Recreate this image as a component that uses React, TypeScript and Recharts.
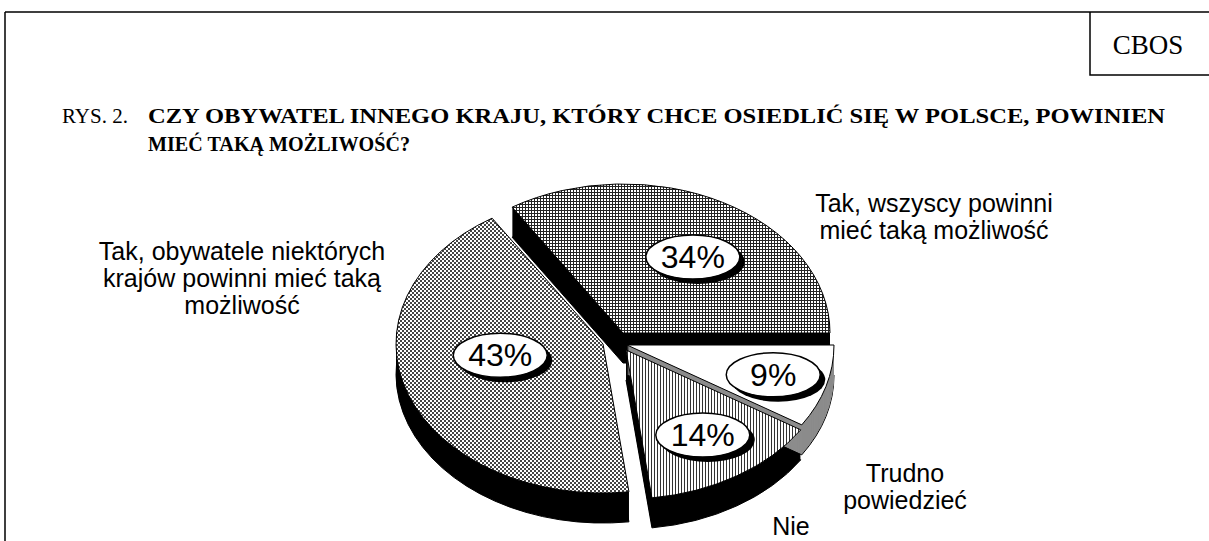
import React from "react";
import { PieChart, Pie } from "recharts";

// answers (order = drawing order, counter-clockwise from 3 o'clock)
const categories = [
  "Tak, wszyscy powinni mieć taką możliwość",
  "Tak, obywatele niektórych krajów powinni mieć taką możliwość",
  "Nie",
  "Trudno powiedzieć",
];
const shares = [34, 43, 14, 9];
const labelLines = [
  ["Tak, wszyscy powinni", "mieć taką możliwość"],
  ["Tak, obywatele niektórych", "krajów powinni mieć taką", "możliwość"],
  ["Nie"],
  ["Trudno", "powiedzieć"],
];

const data = categories.map((c, i) => ({ name: c, value: shares[i] }));

// look of each slice
const tops = ["url(#grid)", "url(#checker)", "url(#vlines)", "#ffffff"];
const sides = ["#000000", "#000000", "#000000", "#8c8c8c"];
const explode = [
  [-2, -10],
  [-22, 1],
  [1, 7],
  [2, 2],
];
const pctNudge = [
  [8, 5],
  [18, -20],
  [8, 7],
  [23, 4],
];
const catOffset = [
  [309, -131],
  [-383, -83],
  [166, 192],
  [280, 139],
];

const CX = 620;
const CY = 338;
const R = 207;
const TILT = 0.72;
const DEPTH = 30;
const SANS = "Liberation Sans, Arial, sans-serif";
const SERIF = "Liberation Serif, Times New Roman, serif";

const rad = Math.PI / 180;

function slicePath(x0: number, y0: number, rx: number, a0: number, a1: number) {
  const ry = rx * TILT;
  const p0 = [x0 + rx * Math.cos(a0 * rad), y0 - ry * Math.sin(a0 * rad)];
  const p1 = [x0 + rx * Math.cos(a1 * rad), y0 - ry * Math.sin(a1 * rad)];
  const large = Math.abs(a1 - a0) > 180 ? 1 : 0;
  return `M${x0},${y0} L${p0[0]},${p0[1]} A${rx},${ry} 0 ${large} 0 ${p1[0]},${p1[1]} Z`;
}

function sliceIndex(props: any) {
  const n = props.name ?? props.payload?.name;
  return Math.max(0, categories.indexOf(n));
}

function SideShape(props: any) {
  const i = sliceIndex(props);
  const x0 = props.cx + explode[i][0];
  const y0 = props.cy + explode[i][1];
  const d = slicePath(x0, y0, props.outerRadius, props.startAngle, props.endAngle);
  const layers = [];
  for (let t = DEPTH; t >= 1; t--) {
    layers.push(
      <path
        key={t}
        d={d}
        transform={`translate(0,${t})`}
        fill={sides[i]}
        stroke={t === DEPTH ? "#000" : "none"}
        strokeWidth={1}
      />
    );
  }
  return <g>{layers}</g>;
}

function TopShape(props: any) {
  const i = sliceIndex(props);
  const x0 = props.cx + explode[i][0];
  const y0 = props.cy + explode[i][1];
  return (
    <path
      d={slicePath(x0, y0, props.outerRadius, props.startAngle, props.endAngle)}
      fill={tops[i]}
      stroke="#000"
      strokeWidth={1}
    />
  );
}

function renderLabel(props: any) {
  const i = props.index;
  const mid = props.midAngle;
  const rx = props.outerRadius;
  const ry = rx * TILT;
  const x =
    props.cx + explode[i][0] + 0.62 * rx * Math.cos(mid * rad) + pctNudge[i][0];
  const y =
    props.cy + explode[i][1] - 0.62 * ry * Math.sin(mid * rad) + pctNudge[i][1];
  const lx = props.cx + catOffset[i][0];
  const ly = props.cy + catOffset[i][1];
  return (
    <g key={`lab-${i}`}>
      <ellipse cx={x + 5} cy={y + 5} rx={47} ry={22} fill="#000" />
      <ellipse cx={x} cy={y} rx={47} ry={22} fill="#fff" stroke="#000" strokeWidth={1.5} />
      <text
        x={x}
        y={y + 11}
        textAnchor="middle"
        fontFamily={SANS}
        fontSize={32}
        fill="#000"
      >
        {`${shares[i]}%`}
      </text>
      <text textAnchor="middle" fontFamily={SANS} fontSize={25} fill="#000">
        {labelLines[i].map((ln, k) => (
          <tspan key={k} x={lx} y={ly + k * 27}>
            {ln}
          </tspan>
        ))}
      </text>
    </g>
  );
}

export default function App() {
  return (
    <div style={{ position: "absolute", left: 0, top: 0, width: 1209, height: 541, background: "#fff" }}>
      <svg width={1209} height={541} style={{ position: "absolute", left: 0, top: 0 }}>
        <defs>
          <pattern id="grid" width={3} height={3} patternUnits="userSpaceOnUse">
            <rect width={3} height={3} fill="#fff" />
            <rect width={3} height={1} fill="#222" />
            <rect width={1} height={3} fill="#222" />
          </pattern>
          <pattern id="checker" width={4} height={4} patternUnits="userSpaceOnUse">
            <rect width={4} height={4} fill="#fff" />
            <rect width={2} height={2} fill="#444" />
            <rect x={2} y={2} width={2} height={2} fill="#444" />
          </pattern>
          <pattern id="vlines" width={3} height={3} patternUnits="userSpaceOnUse">
            <rect width={3} height={3} fill="#fff" />
            <rect width={1} height={3} fill="#333" />
          </pattern>
        </defs>
        <path d="M5,12 H1209 M5,12 V541 M1090,12 V75 H1209" stroke="#000" strokeWidth={1.5} fill="none" />
        <text x={1148} y={54} textAnchor="middle" fontFamily={SERIF} fontSize={27}>
          CBOS
        </text>
        <text x={62} y={123} fontFamily={SERIF} fontSize={21}>
          RYS. 2.
        </text>
        <text
          x={148}
          y={123}
          fontFamily={SERIF}
          fontSize={21}
          fontWeight="bold"
          textLength={1017}
          lengthAdjust="spacingAndGlyphs"
        >
          CZY OBYWATEL INNEGO KRAJU, KTÓRY CHCE OSIEDLIĆ SIĘ W POLSCE, POWINIEN
        </text>
        <text
          x={148}
          y={151}
          fontFamily={SERIF}
          fontSize={21}
          fontWeight="bold"
          textLength={262}
          lengthAdjust="spacingAndGlyphs"
        >
          MIEĆ TAKĄ MOŻLIWOŚĆ?
        </text>
      </svg>
      <div style={{ position: "absolute", left: 0, top: 0 }}>
        <PieChart width={1209} height={541}>
          <Pie
            data={data}
            dataKey="value"
            nameKey="name"
            cx={CX}
            cy={CY}
            outerRadius={R}
            startAngle={0}
            endAngle={360}
            shape={SideShape}
            activeShape={SideShape}
            inactiveShape={SideShape}
            label={false}
            labelLine={false}
            isAnimationActive={false}
          />
          <Pie
            data={data}
            dataKey="value"
            nameKey="name"
            cx={CX}
            cy={CY}
            outerRadius={R}
            startAngle={0}
            endAngle={360}
            shape={TopShape}
            activeShape={TopShape}
            inactiveShape={TopShape}
            label={renderLabel}
            labelLine={false}
            isAnimationActive={false}
          />
        </PieChart>
      </div>
    </div>
  );
}
